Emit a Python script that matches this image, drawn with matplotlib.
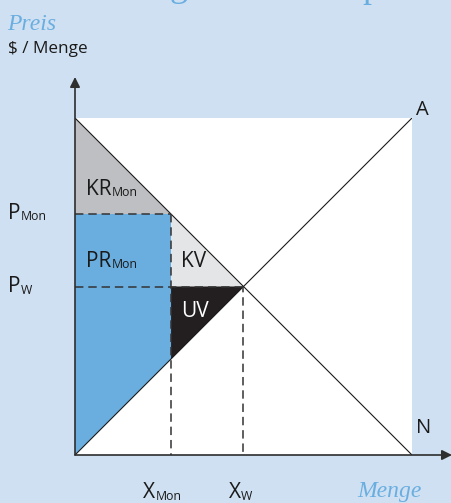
import matplotlib
matplotlib.use("Agg")
import matplotlib.pyplot as plt
from matplotlib.patches import Polygon

# ---- data (normalised model units) ----
demand_q = [0.0, 1.0]
demand_p = [1.0, 0.0]
supply_q = [0.0, 1.0]
supply_p = [0.0, 1.0]
x_mon, p_mon = 0.285, 0.715
x_w, p_w = 0.5, 0.5

W, H = 452, 503
BG = "#cfe0f2"
BLUE = "#6aaee0"
GRAY = "#bebfc2"
LGRAY = "#e4e5e7"
BLACK = "#231f20"
AX = "#2e2e2e"
FONT = "Open Sans"
SERIF = "Liberation Serif"

fig = plt.figure(figsize=(W / 100, H / 100), dpi=100, facecolor=BG)
x0, y0, side = 75, 455, 337
ax = fig.add_axes([x0 / W, 1 - y0 / H, side / W, side / H])
ax.set_facecolor("white")
ax.set_xlim(0, 1)
ax.set_ylim(0, 1)
for s in ["top", "right", "left", "bottom"]:
    ax.spines[s].set_visible(False)
ax.set_xticks([])
ax.set_yticks([])

# regions
ax.add_patch(Polygon([(0, 1), (0, p_mon), (x_mon, p_mon)], closed=True, fc=GRAY, ec="none"))
ax.add_patch(Polygon([(0, 0), (0, p_mon), (x_mon, p_mon), (x_mon, x_mon)], closed=True, fc=BLUE, ec="none"))
ax.add_patch(Polygon([(x_mon, p_mon), (x_mon, p_w), (x_w, p_w)], closed=True, fc=LGRAY, ec="none"))
ax.add_patch(Polygon([(x_mon, p_w), (x_w, p_w), (x_mon, x_mon)], closed=True, fc=BLACK, ec="none"))

# curves
ax.plot(demand_q, demand_p, color="#1a1a1a", lw=0.8, solid_capstyle="butt")
ax.plot(supply_q, supply_p, color="#1a1a1a", lw=0.8, solid_capstyle="butt")

# dashed guides
ds = (0, (5.5, 3.2))
dc = "#333333"
ax.plot([0, x_mon], [p_mon, p_mon], color=dc, lw=1.1, ls=ds)
ax.plot([0, x_w], [p_w, p_w], color=dc, lw=1.1, ls=ds)
ax.plot([x_mon, x_mon], [p_mon, 0], color=dc, lw=1.1, ls=ds)
ax.plot([x_w, x_w], [p_w, 0], color=dc, lw=1.1, ls=(2, (5.5, 3.2)))

# axes arrows
top_y = (y0 - 77) / side
right_x = (W - x0) / side
ax.annotate("", xy=(0, top_y), xytext=(0, 0), xycoords="data",
            arrowprops=dict(arrowstyle="-|>,head_length=0.6,head_width=0.3", color=AX, lw=1.2,
                            shrinkA=0, shrinkB=0), annotation_clip=False)
ax.annotate("", xy=(right_x, 0), xytext=(0, 0), xycoords="data",
            arrowprops=dict(arrowstyle="-|>,head_length=0.6,head_width=0.3", color=AX, lw=1.2,
                            shrinkA=0, shrinkB=0), annotation_clip=False)


def fx(px):
    return px / W


def fy(py):
    return 1 - py / H


def label(px, py, main, sub=None, size=15, color="#1a1a1a", subsize=8.8, subdy=1.5, ha="left"):
    t = fig.text(fx(px), fy(py), main, fontsize=size, color=color, family=FONT,
                 ha=ha, va="baseline")
    if sub:
        fig.canvas.draw()
        bb = t.get_window_extent()
        fig.text(bb.x1 / W + 0.3 / W, fy(py + subdy), sub, fontsize=subsize, color=color,
                 family=FONT, ha="left", va="baseline")
    return t


# partly cut title at the top
fig.text(fx(170), fy(-4), "g", fontsize=26, color=BLUE, family=SERIF, va="baseline")
fig.text(fx(362), fy(-3), "p", fontsize=26, color=BLUE, family=SERIF, va="baseline")

fig.text(fx(7), fy(30), "Preis", fontsize=17, color=BLUE, family=SERIF, style="italic", va="baseline")
fig.text(fx(8), fy(53), "$ / Menge", fontsize=12.3, color="#1a1a1a", family=FONT, va="baseline")
fig.text(fx(357), fy(497), "Menge", fontsize=17, color=BLUE, family=SERIF, style="italic", va="baseline")

label(416, 115, "A", size=14.5)
label(416, 433, "N", size=14.5)
label(8, 219, "P", "Mon")
label(8, 292, "P", "W")
label(143, 498, "X", "Mon")
label(229, 498, "X", "W")
label(86, 195, "KR", "Mon")
label(86, 267, "PR", "Mon")
label(181, 267, "KV")
label(181, 317, "UV", color="white")

fig.savefig("out.png", dpi=100, facecolor=BG)
